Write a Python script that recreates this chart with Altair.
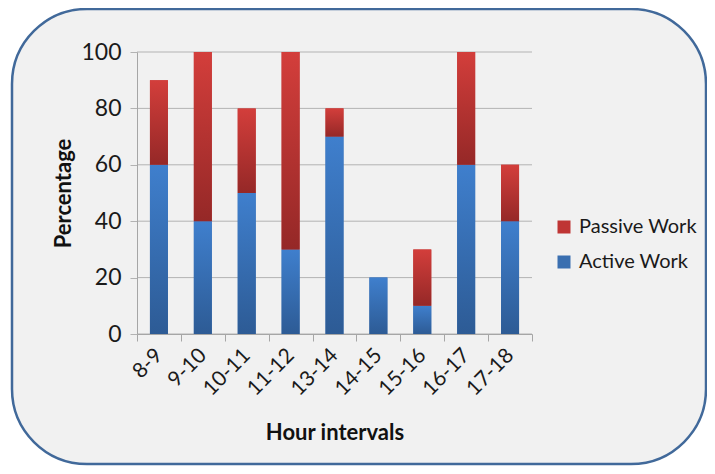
import altair as alt
import pandas as pd

categories = ["8-9", "9-10", "10-11", "11-12", "13-14", "14-15", "15-16", "16-17", "17-18"]
active = [60, 40, 50, 30, 70, 20, 10, 60, 40]
passive = [30, 60, 30, 70, 10, 0, 20, 40, 20]
series = ["Passive Work", "Active Work"]
y_ticks = [0, 20, 40, 60, 80, 100]

rows = []
for c, a, p in zip(categories, active, passive):
    rows.append({"cat": c, "series": "Active Work", "start": 0, "end": a})
    rows.append({"cat": c, "series": "Passive Work", "start": a, "end": a + p})
df = pd.DataFrame(rows)

FONT = "Lato"

x_enc = alt.X("cat:N", sort=categories, title="Hour intervals",
              scale=alt.Scale(paddingInner=0, paddingOuter=0),
              axis=alt.Axis(labelAngle=-45, labelAlign="right", labelBaseline="middle",
                            labelFontSize=21, labelColor="#1a1a1a", labelPadding=11,
                            tickBand="extent", tickSize=7, tickColor="#a6a6a6",
                            domainColor="#a6a6a6", grid=False, zindex=1,
                            titleFontSize=22, titleFontWeight="bold", titleColor="#111111",
                            titleY=98, titleBaseline="middle"))
y_enc = alt.Y("start:Q", title="Percentage",
              scale=alt.Scale(domain=[0, 100], nice=False),
              axis=alt.Axis(values=y_ticks, labelFontSize=23, labelColor="#1a1a1a",
                            labelPadding=9, tickSize=7, tickColor="#b3b3b3",
                            domainColor="#a6a6a6", grid=False, zindex=1,
                            titleFontSize=22, titleFontWeight="bold", titleColor="#111111",
                            titleX=-74, titleY=141, titleAngle=-90,
                            titleAlign="center", titleBaseline="middle"))

bg = alt.Chart(pd.DataFrame({"a": [0]})).mark_rect(
    fill="#f1f1f1", stroke="#41699a", strokeWidth=2.5, cornerRadius=75
).encode(x=alt.value(-125), x2=alt.value(569), y=alt.value(-43), y2=alt.value(412))

grid = alt.Chart(pd.DataFrame({"start": y_ticks})).mark_rule(
    color="#b3b3b3", strokeWidth=1
).encode(y=alt.Y("start:Q"))

base = alt.Chart(df).mark_bar(width={"band": 0.41}).encode(
    x=x_enc, y=y_enc, y2="end:Q",
    color=alt.Color("series:N", scale=alt.Scale(domain=series, range=["#bf3534", "#3a6fb0"]),
                    legend=alt.Legend(title=None, orient="none", legendX=417, legendY=165,
                                      symbolType="square", symbolSize=169, symbolStrokeWidth=0,
                                      labelFontSize=20, labelColor="#1a1a1a", labelOffset=5,
                                      rowPadding=15, labelFont=FONT))
)

def grad(top, bottom):
    return {"gradient": "linear", "x1": 0, "x2": 0, "y1": 0, "y2": 1,
            "stops": [{"offset": 0, "color": top}, {"offset": 1, "color": bottom}]}

active_layer = alt.Chart(df).transform_filter(alt.datum.series == "Active Work").mark_bar(
    width={"band": 0.41}, fill=grad("#3f7fcd", "#2d5b95")
).encode(x=alt.X("cat:N", sort=categories), y=alt.Y("start:Q"), y2="end:Q")

passive_layer = alt.Chart(df).transform_filter(alt.datum.series == "Passive Work").mark_bar(
    width={"band": 0.41}, fill=grad("#d33e3b", "#952827")
).encode(x=alt.X("cat:N", sort=categories), y=alt.Y("start:Q"), y2="end:Q")

chart = alt.layer(bg, grid, base, active_layer, passive_layer).properties(
    width=395, height=282,
    autosize=alt.AutoSizeParams(type="none"),
    padding={"left": 129, "top": 44, "right": 175, "bottom": 132},
    background="white",
).configure_view(stroke=None).configure(font=FONT)

chart.save("out.html", embed_options={"renderer": "svg", "actions": False})
